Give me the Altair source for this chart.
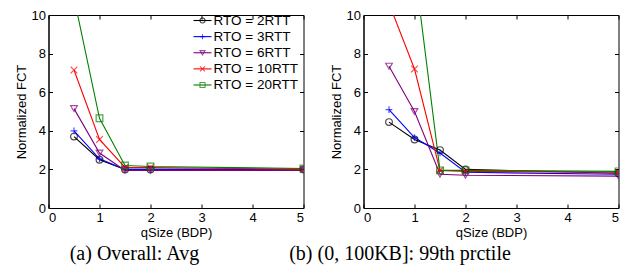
import altair as alt
import pandas as pd

qsize = [0.5, 1, 1.5, 2, 5]
series = ["RTO = 2RTT", "RTO = 3RTT", "RTO = 6RTT", "RTO = 10RTT", "RTO = 20RTT"]
colors = ["#000000", "#0000ff", "#800080", "#ff0000", "#008000"]
shapes = ["circle", "M-1,0L1,0M0,-1L0,1", "triangle-down", "M-1,-1L1,1M-1,1L1,-1", "square"]

# (a) Overall: Avg
avg_2 = [3.7, 2.5, 2.0, 2.0, 2.0]
avg_3 = [4.0, 2.55, 2.0, 2.0, 2.0]
avg_6 = [5.15, 2.85, 1.95, 1.95, 1.95]
avg_10 = [7.15, 3.55, 2.1, 2.1, 2.0]
avg_20 = [10.9, 4.65, 2.2, 2.15, 2.05]

# (b) (0, 100KB]: 99th prctile
p99_2 = [4.45, 3.55, 3.0, 2.0, 1.8]
p99_3 = [5.1, 3.65, 2.85, 1.85, 1.75]
p99_6 = [7.35, 5.0, 1.75, 1.7, 1.65]
p99_10 = [10.6, 7.2, 1.95, 1.9, 1.85]
p99_20 = [20.0, 12.5, 1.95, 1.95, 1.9]

x_ticks = [0, 1, 2, 3, 4, 5]
y_ticks = [0, 2, 4, 6, 8, 10]


def frame(cols):
    rows = []
    for s, vals in zip(series, cols):
        for q, v in zip(qsize, vals):
            rows.append({"q": q, "v": v, "series": s})
    return pd.DataFrame(rows)


df_a = frame([avg_2, avg_3, avg_6, avg_10, avg_20])
df_b = frame([p99_2, p99_3, p99_6, p99_10, p99_20])
df_leg = pd.DataFrame({"series": series, "idx": list(range(len(series)))})

FONT = "Liberation Sans"
cscale = alt.Scale(domain=series, range=colors)
sscale = alt.Scale(domain=series, range=shapes)
IN = alt.ExprRef(expr="-4")

common = dict(grid=False, labelFont=FONT, labelFontSize=13, titleFont=FONT, titleFontSize=13,
              titleFontWeight="normal", labelColor="black", titleColor="black",
              domainColor="black", tickColor="black")


def panel(df, caption, dx, with_legend):
    xax = alt.Axis(values=x_ticks, tickSize=IN, labelPadding=7.5, title="qSize (BDP)",
                   titlePadding=1.5, **common)
    yax = alt.Axis(values=y_ticks, tickSize=IN, labelPadding=7, title="Normalized FCT",
                   titlePadding=3, **common)
    xtop = alt.Axis(values=x_ticks, orient="top", tickSize=IN, labels=False, domain=False,
                    title=None, grid=False, tickColor="black")
    yright = alt.Axis(values=y_ticks, orient="right", tickSize=IN, labels=False,
                      domain=False, title=None, grid=False, tickColor="black")
    xs = alt.Scale(domain=[0, 5], nice=False)
    ys = alt.Scale(domain=[0, 10], nice=False)
    base = alt.Chart(df)
    lines = base.mark_line(clip=True, strokeWidth=1.1).encode(
        x=alt.X("q:Q", scale=xs, axis=xax),
        y=alt.Y("v:Q", scale=ys, axis=yax),
        color=alt.Color("series:N", scale=cscale, legend=None),
    )
    points = base.mark_point(clip=True, filled=False, size=45, strokeWidth=1.2).encode(
        x=alt.X("q:Q", scale=xs, axis=xtop),
        y=alt.Y("v:Q", scale=ys, axis=yright),
        color=alt.Color("series:N", scale=cscale, legend=None),
        shape=alt.Shape("series:N", scale=sscale, legend=None),
    )
    layers = [lines, points]
    if with_legend:
        ly = alt.Y("idx:Q", scale=alt.Scale(domain=[0, 4], range=[5.5, 70]), axis=None)
        lb = alt.Chart(df_leg)
        leg_line = lb.mark_rule(strokeWidth=1.1).encode(
            x=alt.value(145), x2=alt.value(163), y=ly,
            color=alt.Color("series:N", scale=cscale, legend=None),
        )
        leg_pt = lb.mark_point(filled=False, size=25, strokeWidth=1.1).encode(
            x=alt.value(154), y=ly,
            color=alt.Color("series:N", scale=cscale, legend=None),
            shape=alt.Shape("series:N", scale=sscale, legend=None),
        )
        leg_txt = lb.mark_text(align="left", baseline="middle", font=FONT, fontSize=13.5,
                               color="black").encode(
            x=alt.value(165), y=ly, text="series:N",
        )
        layers += [leg_line, leg_pt, leg_txt]
    layer = alt.layer(*layers).resolve_axis(x="independent", y="independent")
    if with_legend:
        layer = layer.resolve_scale(y="independent")
    layer = layer.properties(
        width=255, height=193,
        title=alt.TitleParams(text=caption, orient="bottom", font="Liberation Serif",
                              fontSize=20, fontWeight="normal", color="black",
                              anchor="middle", frame="group", dx=dx, offset=5),
    )
    return layer


left = panel(df_a, "(a) Overall: Avg", -41.5, True)
right = panel(df_b, "(b) (0, 100KB]: 99th prctile", -91, False)

chart = alt.hconcat(left, right, spacing=60, bounds="flush").properties(
    padding={"left": 6.5, "top": 0, "right": 0, "bottom": 0}
).configure_view(stroke="black", strokeWidth=1)

chart.save("out.html", embed_options={"renderer": "svg", "actions": False})
